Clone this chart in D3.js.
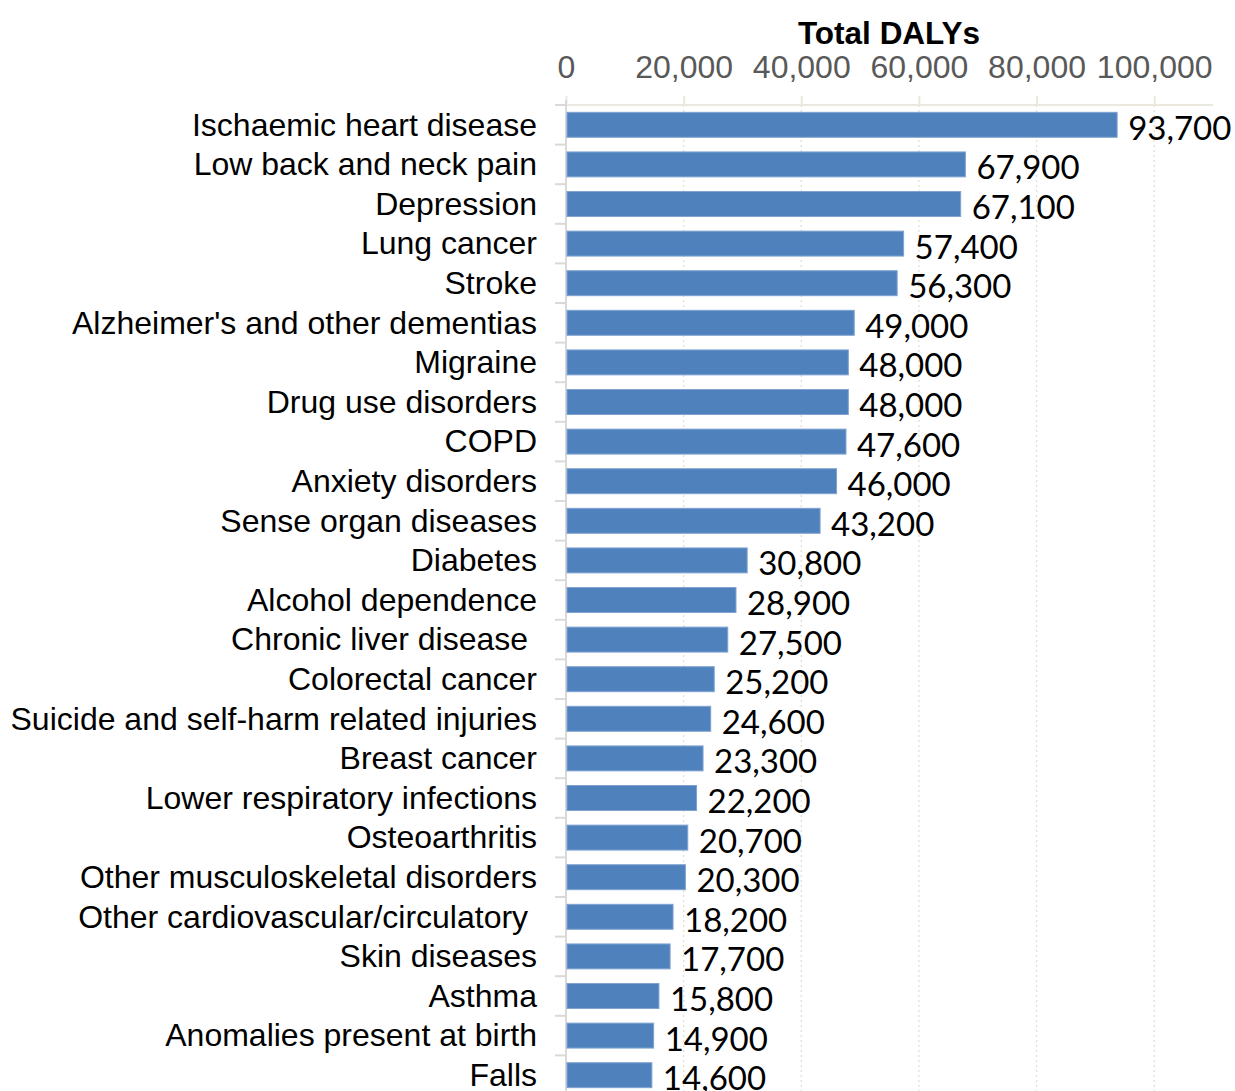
<!DOCTYPE html>
<html><head><meta charset="utf-8">
<script src="https://cdn.jsdelivr.net/npm/d3@7"></script>
<style>body{margin:0;background:#fff;}svg{display:block;}</style>
</head><body>
<script>
const categories = ["Ischaemic heart disease","Low back and neck pain","Depression","Lung cancer","Stroke","Alzheimer's and other dementias","Migraine","Drug use disorders","COPD","Anxiety disorders","Sense organ diseases","Diabetes","Alcohol dependence","Chronic liver disease ","Colorectal cancer","Suicide and self-harm related injuries","Breast cancer","Lower respiratory infections","Osteoarthritis","Other musculoskeletal disorders","Other cardiovascular/circulatory ","Skin diseases","Asthma","Anomalies present at birth","Falls"];
const values = [93700,67900,67100,57400,56300,49000,48000,48000,47600,46000,43200,30800,28900,27500,25200,24600,23300,22200,20700,20300,18200,17700,15800,14900,14600];
const tickValues = [0,20000,40000,60000,80000,100000];
const axisTitle = "Total DALYs";

const W = 1235, H = 1091;
const svg = d3.select("body").append("svg").attr("width", W).attr("height", H);
const x = d3.scaleLinear().domain([0,110000]).range([566,1213]);
const y = d3.scaleBand().domain(categories).range([105,1095]).paddingInner(0.37).paddingOuter(0.185);
const fmt = d3.format(",");

// gridlines
svg.append("g").selectAll("line").data(tickValues.slice(1)).join("line")
  .attr("x1", d=>x(d)).attr("x2", d=>x(d)).attr("y1",105).attr("y2",H)
  .attr("stroke","#e3e0cf").attr("stroke-width",1.3).attr("stroke-dasharray","2,3");

// top axis
const xa = svg.append("g").attr("transform","translate(0,105)")
  .call(d3.axisTop(x).tickValues(tickValues).tickFormat(fmt).tickSize(9).tickPadding(18));
xa.select(".domain").attr("stroke","#ebe8dd").attr("stroke-width",2).attr("d","M558,0H1213");
xa.selectAll(".tick line").attr("stroke","#ebe8dd").attr("stroke-width",2);
xa.selectAll(".tick text").attr("font-family","Liberation Sans, Arial, sans-serif")
  .attr("font-size",32).attr("fill","#595959");

svg.append("text").attr("x",889).attr("y",44).attr("text-anchor","middle")
  .attr("font-family","Liberation Sans, Arial, sans-serif").attr("font-weight","bold")
  .attr("font-size",31.5).attr("fill","#000").text(axisTitle);

// left axis
const step = y.step();
const ya = svg.append("g").attr("transform","translate(566,0)")
  .call(d3.axisLeft(y).tickSize(0).tickPadding(29));
ya.select(".domain").attr("stroke","#d9d9d9").attr("stroke-width",2).attr("d","M0,100V1091");
ya.selectAll(".tick text").attr("font-family","Liberation Sans, Arial, sans-serif")
  .attr("font-size",32).attr("fill","#000").attr("dy","0.34em")
  .style("white-space","pre");
// category boundary ticks
svg.append("g").selectAll("line").data(categories.slice(1)).join("line")
  .attr("x1",555).attr("x2",566)
  .attr("y1", d=>y(d)-(step-y.bandwidth())/2).attr("y2", d=>y(d)-(step-y.bandwidth())/2)
  .attr("stroke","#d9d9d9").attr("stroke-width",2);
svg.append("line").attr("x1",555).attr("x2",566).attr("y1",105).attr("y2",105)
  .attr("stroke","#d9d9d9").attr("stroke-width",2);

// bars
svg.append("g").selectAll("rect").data(categories).join("rect")
  .attr("x", x(0)+1).attr("y", d=>y(d))
  .attr("width", (d,i)=>x(values[i])-x(0)-1).attr("height", y.bandwidth())
  .attr("fill","#4f81bd").attr("stroke","#7fa3d1").attr("stroke-width",1);

// value labels
svg.append("g").selectAll("text").data(categories).join("text")
  .attr("x",(d,i)=>x(values[i])+11).attr("y", d=>y(d)+y.bandwidth()/2+2)
  .attr("dominant-baseline","central")
  .attr("font-family","Lato, Carlito, sans-serif").attr("font-size",33).attr("fill","#000")
  .text((d,i)=>fmt(values[i]));
</script>
</body></html>
